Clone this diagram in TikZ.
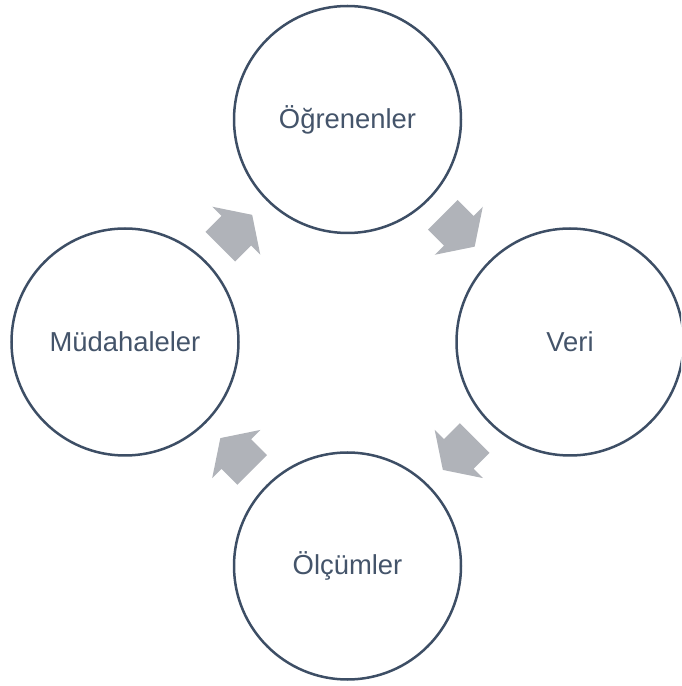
\documentclass[tikz,border=0pt]{standalone}
\usepackage{fontspec}
\setmainfont{Liberation Sans}
\usetikzlibrary{calc}

\definecolor{ringline}{HTML}{3D4E65}
\definecolor{labeltext}{HTML}{44546A}
\definecolor{arrowgray}{HTML}{B0B3B9}

\tikzset{
  stage/.style={circle, draw=ringline, line width=2.5pt, minimum size=227pt,
    inner sep=0pt, text=labeltext, font=\fontsize{27.4}{33}\selectfont},
  blockarrow/.style={fill=arrowgray, draw=none}
}

% block arrow pointing along +x, centred on the origin
\newcommand{\cyclearrow}[2]{%
  \fill[blockarrow, shift={(#1)}, rotate=#2]
    (-22.5,-21) -- (0,-21) -- (0,-34) -- (22.5,0) -- (0,34) -- (0,21) -- (-22.5,21) -- cycle;}

\begin{document}
\begin{tikzpicture}[x=1pt, y=1pt]
  \useasboundingbox (0,0) rectangle (681,686);
  \clip (0,0) rectangle (681,686);

  \node[stage] (top)    at (347.5,566.5) {Öğrenenler};
  \node[stage] (right)  at (570,344)     {Veri};
  \node[stage] (bottom) at (347.5,120)   {Ölçümler};
  \node[stage] (left)   at (125,344)     {Müdahaleler};

  \cyclearrow{$(left)!0.5!(top)$}{45}
  \cyclearrow{$(top)!0.5!(right)$}{-45}
  \cyclearrow{$(right)!0.5!(bottom)$}{-135}
  \cyclearrow{$(bottom)!0.5!(left)$}{135}
\end{tikzpicture}
\end{document}
